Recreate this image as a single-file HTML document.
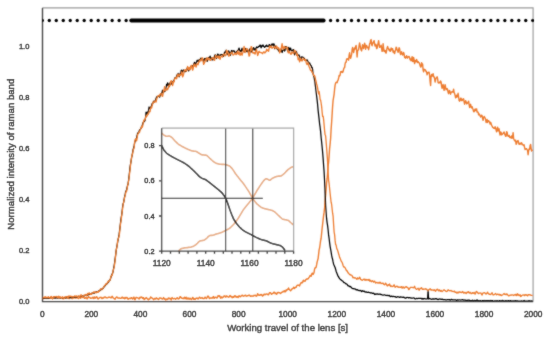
<!DOCTYPE html>
<html><head><meta charset="utf-8"><style>
html,body{margin:0;padding:0;background:#fff;width:550px;height:338px;overflow:hidden}
svg{display:block}
text{font-family:"Liberation Sans", sans-serif;}
</style></head><body>
<svg width="550" height="338" viewBox="0 0 550 338">
<rect width="550" height="338" fill="#fff"/>
<filter id="bl" x="-5%" y="-5%" width="110%" height="110%"><feConvolveMatrix order="3" kernelMatrix="1 2 1 2 16 2 1 2 1" preserveAlpha="false" edgeMode="duplicate"/></filter>
<filter id="bt" x="-5%" y="-5%" width="110%" height="110%"><feConvolveMatrix order="3" kernelMatrix="0 1 0 1 10 1 0 1 0" preserveAlpha="false" edgeMode="duplicate"/></filter>
<g filter="url(#bl)">
<clipPath id="pc"><rect x="42.2" y="8" width="491" height="293.6"/></clipPath>
<clipPath id="ic"><rect x="161.7" y="128.2" width="131.9" height="123"/></clipPath>
<path d="M42.2 7.9H533.1V301.6" fill="none" stroke="#9a9a9a" stroke-width="1.15"/>
<path d="M42.5 8V301.6H533.2" fill="none" stroke="#4a4a4a" stroke-width="1.4"/>
<g fill="none" stroke-linejoin="round" clip-path="url(#pc)">
<path d="M42.6 298.1L43.1 298.7L43.6 298.5L44.1 298.2L44.6 298.0L45.1 297.2L45.6 297.0L46.1 297.2L46.6 298.4L47.1 297.9L47.6 297.8L48.1 297.9L48.6 297.0L49.1 297.9L49.6 298.3L50.1 298.0L50.6 297.0L51.1 296.6L51.6 297.1L52.1 298.3L52.6 298.7L53.1 297.6L53.6 297.2L54.1 296.8L54.6 296.8L55.1 297.5L55.6 297.9L56.1 297.7L56.6 297.5L57.1 297.0L57.6 298.0L58.1 297.7L58.6 296.3L59.1 296.9L59.6 297.3L60.1 296.9L60.6 297.8L61.1 297.6L61.6 297.6L62.1 297.7L62.6 298.0L63.1 298.9L63.6 298.0L64.1 297.3L64.6 297.1L65.1 297.3L65.6 298.2L66.1 297.5L66.6 297.4L67.1 297.4L67.6 296.6L68.1 296.4L68.6 297.7L69.1 298.6L69.6 297.7L70.1 297.4L70.6 297.8L71.1 297.1L71.6 296.6L72.1 298.6L72.6 298.5L73.1 297.4L73.6 297.9L74.1 297.5L74.6 297.2L75.1 298.1L75.6 298.1L76.1 298.0L76.6 297.6L77.1 297.6L77.6 297.8L78.1 298.3L78.6 298.6L79.1 297.8L79.6 296.3L80.1 296.8L80.6 298.3L81.1 297.5L81.6 296.2L82.1 296.1L82.6 297.5L83.1 297.6L83.6 296.9L84.1 297.5L84.6 298.3L85.1 298.2L85.6 297.6L86.1 297.3L86.6 298.1L87.1 298.9L87.6 298.1L88.1 297.0L88.6 296.6L89.1 297.6L89.6 297.6L90.1 297.7L90.6 298.3L91.1 298.0L91.6 298.1L92.1 298.2L92.6 297.5L93.1 297.1L93.6 298.6L94.1 298.2L94.6 296.9L95.1 298.0L95.6 298.1L96.1 297.3L96.6 296.7L97.1 297.3L97.6 298.4L98.1 298.9L98.6 298.4L99.1 298.2L99.6 297.7L100.1 297.3L100.6 297.5L101.1 297.3L101.6 298.2L102.1 298.6L102.6 297.8L103.1 297.9L103.6 298.1L104.1 297.1L104.6 297.2L105.1 297.0L105.6 297.1L106.1 297.9L106.6 297.8L107.1 297.9L107.6 297.9L108.1 297.5L108.6 297.1L109.1 297.1L109.6 297.4L110.1 297.2L110.6 297.6L111.1 297.9L111.6 297.1L112.1 296.3L112.6 296.9L113.1 297.9L113.6 298.2L114.1 298.4L114.6 298.9L115.1 299.3L115.6 298.1L116.1 297.4L116.6 296.9L117.1 297.2L117.6 297.8L118.1 298.2L118.6 298.0L119.1 297.8L119.6 298.1L120.1 298.3L120.6 298.1L121.1 298.4L121.6 297.8L122.1 297.1L122.6 297.6L123.1 298.3L123.6 298.0L124.1 297.6L124.6 298.8L125.1 298.6L125.6 297.4L126.1 297.9L126.6 297.5L127.1 297.4L127.6 298.8L128.1 299.2L128.6 298.7L129.1 298.5L129.6 298.3L130.1 298.4L130.6 298.6L131.1 297.7L131.6 297.8L132.1 298.4L132.6 298.9L133.1 298.4L133.6 297.3L134.1 297.3L134.6 299.6L135.1 299.7L135.6 298.4L136.1 297.4L136.6 297.5L137.1 297.6L137.6 297.9L138.1 298.1L138.6 298.2L139.1 299.1L139.6 297.7L140.1 297.2L140.6 297.8L141.1 297.0L141.6 297.1L142.1 297.6L142.6 298.4L143.1 297.7L143.6 297.8L144.1 299.5L144.6 299.3L145.1 298.6L145.6 298.3L146.1 297.5L146.6 297.8L147.1 298.5L147.6 299.0L148.1 299.7L148.6 299.7L149.1 298.7L149.6 299.1L150.1 298.3L150.6 297.0L151.1 297.5L151.6 297.7L152.1 298.2L152.6 298.4L153.1 298.9L153.6 299.7L154.1 299.3L154.6 298.4L155.1 298.4L155.6 298.9L156.1 298.1L156.6 297.9L157.1 298.8L157.6 298.7L158.1 299.1L158.6 299.6L159.1 298.6L159.6 298.0L160.1 298.0L160.6 298.2L161.1 298.2L161.6 298.4L162.1 299.0L162.6 299.0L163.1 298.8L163.6 297.6L164.1 298.5L164.6 299.2L165.1 299.0L165.6 299.9L166.1 298.9L166.6 299.6L167.1 299.5L167.6 299.3L168.1 298.4L168.6 298.0L169.1 298.8L169.6 298.3L170.1 298.4L170.6 298.8L171.1 300.1L171.6 298.4L172.1 297.6L172.6 298.2L173.1 298.7L173.6 298.8L174.1 298.5L174.6 298.5L175.1 298.6L175.6 299.2L176.1 298.7L176.6 298.3L177.1 297.8L177.6 297.9L178.1 299.0L178.6 298.6L179.1 298.7L179.6 298.0L180.1 296.6L180.6 296.9L181.1 297.5L181.6 298.2L182.1 298.4L182.6 298.3L183.1 298.7L183.6 298.5L184.1 297.6L184.6 297.2L185.1 298.8L185.6 298.2L186.1 297.2L186.6 298.9L187.1 299.2L187.6 298.2L188.1 297.9L188.6 298.7L189.1 299.3L189.6 298.4L190.1 298.2L190.6 299.1L191.1 298.9L191.6 299.4L192.1 298.8L192.6 297.4L193.1 297.8L193.6 299.3L194.1 299.4L194.6 298.7L195.1 299.5L195.6 298.9L196.1 298.2L196.6 298.4L197.1 298.0L197.6 298.3L198.1 299.0L198.6 298.5L199.1 297.5L199.6 297.2L200.1 297.7L200.6 298.2L201.1 298.1L201.6 297.8L202.1 297.5L202.6 298.4L203.1 298.5L203.6 298.3L204.1 298.6L204.6 298.1L205.1 297.1L205.6 297.7L206.1 298.5L206.6 298.5L207.1 297.5L207.6 296.2L208.1 296.1L208.6 296.5L209.1 298.0L209.6 298.6L210.1 298.1L210.6 297.9L211.1 298.2L211.6 298.0L212.1 297.8L212.6 298.0L213.1 296.8L213.6 296.5L214.1 298.2L214.6 298.1L215.1 297.4L215.6 297.3L216.1 297.1L216.6 297.9L217.1 298.0L217.6 297.0L218.1 295.6L218.6 295.8L219.1 296.3L219.6 295.7L220.1 297.0L220.6 298.2L221.1 296.9L221.6 296.9L222.1 298.0L222.6 297.2L223.1 297.3L223.6 296.9L224.1 295.9L224.6 296.0L225.1 296.0L225.6 297.1L226.1 296.9L226.6 295.9L227.1 296.1L227.6 296.7L228.1 296.9L228.6 297.2L229.1 297.0L229.6 296.0L230.1 295.5L230.6 296.6L231.1 296.4L231.6 296.5L232.1 297.8L232.6 297.3L233.1 296.5L233.6 297.3L234.1 297.0L234.6 295.9L235.1 295.7L235.6 296.2L236.1 297.3L236.6 296.7L237.1 296.5L237.6 297.1L238.1 297.5L238.6 296.2L239.1 295.8L239.6 296.4L240.1 296.8L240.6 296.6L241.1 295.9L241.6 295.8L242.1 295.2L242.6 295.4L243.1 296.0L243.6 296.2L244.1 295.9L244.6 295.5L245.1 295.5L245.6 295.2L246.1 296.0L246.6 296.2L247.1 296.0L247.6 295.7L248.1 295.6L248.6 295.3L249.1 295.0L249.6 295.5L250.1 296.0L250.6 296.3L251.1 295.8L251.6 296.1L252.1 296.2L252.6 296.0L253.1 296.2L253.6 295.9L254.1 295.3L254.6 295.5L255.1 295.4L255.6 295.3L256.1 296.0L256.6 296.2L257.1 295.4L257.6 293.7L258.1 294.4L258.6 294.9L259.1 295.4L259.6 295.3L260.1 294.6L260.6 295.1L261.1 294.9L261.6 294.4L262.1 295.4L262.6 296.1L263.1 295.6L263.6 295.0L264.1 294.1L264.6 294.2L265.1 294.7L265.6 294.5L266.1 294.1L266.6 294.0L267.1 294.1L267.6 294.2L268.1 294.9L268.6 294.9L269.1 293.4L269.6 292.7L270.1 292.7L270.6 292.7L271.1 293.7L271.6 294.2L272.1 293.6L272.6 293.5L273.1 293.4L273.6 292.5L274.1 292.1L274.6 292.3L275.1 293.7L275.6 293.2L276.1 293.1L276.6 294.3L277.1 293.5L277.6 292.7L278.1 292.4L278.6 292.4L279.1 292.9L279.6 292.8L280.1 292.9L280.6 293.4L281.1 293.0L281.6 292.4L282.1 292.1L282.6 292.0L283.1 291.3L283.6 291.2L284.1 291.7L284.6 290.7L285.1 291.8L285.6 291.6L286.1 290.0L286.6 290.5L287.1 289.8L287.6 289.2L288.1 289.2L288.6 288.0L289.1 289.4L289.6 289.8L290.1 290.2L290.6 290.8L291.1 290.0L291.6 289.6L292.1 288.6L292.6 288.6L293.1 288.3L293.6 287.2L294.1 288.0L294.6 288.5L295.1 287.5L295.6 287.3L296.1 287.4L296.6 286.1L297.1 285.4L297.6 285.2L298.1 285.1L298.6 285.1L299.1 285.5L299.6 285.9L300.1 284.3L300.6 283.7L301.1 282.5L301.6 282.5L302.1 282.9L302.6 282.5L303.1 280.8L303.6 280.2L304.1 281.1L304.6 281.1L305.1 281.2L305.6 280.0L306.1 279.3L306.6 279.3L307.1 278.8L307.6 279.0L308.1 278.9L308.6 278.0L309.1 277.4L309.6 276.6L310.1 275.4L310.6 275.9L311.1 276.3L311.6 274.5L312.1 273.2L312.6 273.3L313.1 274.4L313.6 273.6L314.1 272.2L314.6 269.0L315.1 267.7L315.6 267.8L316.1 267.2L316.6 264.9L317.1 262.1L317.6 260.4L318.1 258.6L318.6 254.4L319.1 249.8L319.6 247.8L320.1 244.5L320.6 240.6L321.1 238.5L321.6 233.5L322.1 228.5L322.6 224.3L323.1 219.8L323.6 215.7L324.1 212.2L324.6 207.9L325.1 200.8L325.6 195.5L326.1 189.5L326.6 182.3L327.1 178.7L327.6 173.1L328.1 166.1L328.6 162.5L329.1 156.4L329.6 148.7L330.1 144.1L330.6 138.7L331.1 129.4L331.6 122.5L332.1 114.8L332.6 106.4L333.1 100.3L333.6 97.4L334.1 94.3L334.6 89.2L335.1 85.2L335.6 83.1L336.1 82.3L336.6 82.4L337.1 82.7L337.6 80.8L338.1 80.1L338.6 78.3L339.1 75.5L339.6 76.0L340.1 75.1L340.6 71.8L341.1 72.2L341.6 71.7L342.1 71.4L342.6 72.5L343.1 71.4L343.6 69.3L344.1 67.8L344.6 67.6L345.1 63.9L345.6 62.1L346.1 62.3L346.6 59.0L347.1 59.2L347.6 58.8L348.1 59.1L348.6 60.2L349.1 55.3L349.6 52.8L350.1 57.8L350.6 58.2L351.1 56.5L351.6 54.6L352.1 49.7L352.6 47.4L353.1 50.0L353.6 52.6L354.1 50.2L354.6 48.0L355.1 49.0L355.6 46.6L356.1 45.4L356.6 49.9L357.1 57.0L357.6 50.8L358.1 50.2L358.6 49.5L359.1 45.6L359.6 43.0L360.1 45.5L360.6 48.1L361.1 50.0L361.6 50.9L362.1 47.8L362.6 44.8L363.1 46.6L363.6 48.5L364.1 46.0L364.6 43.3L365.1 44.8L365.6 49.2L366.1 46.9L366.6 45.5L367.1 46.8L367.6 47.8L368.1 47.2L368.6 49.7L369.1 47.3L369.6 43.8L370.1 43.3L370.6 40.3L371.1 39.6L371.6 44.5L372.1 45.8L372.6 43.0L373.1 43.0L373.6 41.5L374.1 40.7L374.6 44.4L375.1 46.0L375.6 44.3L376.1 44.7L376.6 48.6L377.1 48.2L377.6 45.5L378.1 43.3L378.6 40.7L379.1 44.2L379.6 47.3L380.1 47.1L380.6 46.5L381.1 45.2L381.6 48.3L382.1 51.4L382.6 50.2L383.1 43.7L383.6 48.0L384.1 51.4L384.6 50.7L385.1 50.4L385.6 52.9L386.1 53.0L386.6 50.5L387.1 47.9L387.6 46.4L388.1 48.0L388.6 48.9L389.1 50.3L389.6 49.4L390.1 51.4L390.6 51.0L391.1 48.0L391.6 49.9L392.1 48.8L392.6 48.6L393.1 52.1L393.6 51.0L394.1 52.9L394.6 53.5L395.1 51.3L395.6 49.9L396.1 47.3L396.6 47.8L397.1 50.0L397.6 50.6L398.1 52.4L398.6 50.0L399.1 47.7L399.6 48.8L400.1 52.5L400.6 54.5L401.1 52.2L401.6 51.7L402.1 53.9L402.6 55.1L403.1 54.4L403.6 52.5L404.1 54.0L404.6 57.5L405.1 56.9L405.6 58.2L406.1 57.4L406.6 55.6L407.1 57.1L407.6 58.1L408.1 56.9L408.6 56.6L409.1 56.4L409.6 57.6L410.1 59.7L410.6 59.1L411.1 60.8L411.6 59.1L412.1 56.6L412.6 61.4L413.1 61.6L413.6 57.4L414.1 60.0L414.6 63.6L415.1 60.5L415.6 61.2L416.1 61.8L416.6 59.4L417.1 60.9L417.6 62.5L418.1 61.7L418.6 62.3L419.1 62.8L419.6 63.9L420.1 65.6L420.6 67.0L421.1 66.8L421.6 62.7L422.1 63.7L422.6 64.1L423.1 69.9L423.6 71.8L424.1 69.3L424.6 69.9L425.1 69.7L425.6 70.2L426.1 71.7L426.6 71.8L427.1 74.8L427.6 72.7L428.1 72.7L428.6 72.1L429.1 72.1L429.6 75.3L430.1 81.2L430.6 85.5L431.1 76.3L431.6 74.5L432.1 76.2L432.6 75.7L433.1 73.7L433.6 76.7L434.1 76.6L434.6 78.6L435.1 82.0L435.6 79.6L436.1 78.0L436.6 77.5L437.1 76.8L437.6 78.6L438.1 82.6L438.6 83.0L439.1 82.9L439.6 82.2L440.1 82.8L440.6 81.0L441.1 82.1L441.6 86.2L442.1 88.3L442.6 86.2L443.1 84.5L443.6 87.3L444.1 90.4L444.6 87.1L445.1 84.7L445.6 87.3L446.1 89.8L446.6 88.8L447.1 88.5L447.6 89.6L448.1 92.3L448.6 93.7L449.1 91.0L449.6 90.5L450.1 92.5L450.6 94.2L451.1 92.1L451.6 92.0L452.1 92.1L452.6 91.4L453.1 91.9L453.6 89.2L454.1 92.7L454.6 93.5L455.1 95.4L455.6 97.9L456.1 97.3L456.6 95.3L457.1 97.0L457.6 96.2L458.1 93.3L458.6 97.0L459.1 100.5L459.6 101.2L460.1 100.4L460.6 98.1L461.1 98.1L461.6 100.6L462.1 100.6L462.6 99.5L463.1 99.0L463.6 98.8L464.1 101.9L464.6 104.2L465.1 102.1L465.6 100.6L466.1 101.7L466.6 103.9L467.1 103.5L467.6 103.0L468.1 102.2L468.6 101.2L469.1 104.6L469.6 107.5L470.1 106.0L470.6 104.3L471.1 107.0L471.6 107.9L472.1 106.7L472.6 108.2L473.1 109.5L473.6 111.6L474.1 111.8L474.6 110.2L475.1 108.9L475.6 110.6L476.1 109.5L476.6 108.9L477.1 112.1L477.6 111.8L478.1 112.2L478.6 114.8L479.1 113.9L479.6 114.6L480.1 115.8L480.6 117.0L481.1 116.4L481.6 115.1L482.1 115.7L482.6 118.6L483.1 120.4L483.6 117.5L484.1 116.5L484.6 117.2L485.1 118.0L485.6 119.5L486.1 122.5L486.6 120.6L487.1 119.5L487.6 122.5L488.1 121.0L488.6 120.7L489.1 121.4L489.6 122.0L490.1 124.1L490.6 122.3L491.1 123.6L491.6 125.3L492.1 126.0L492.6 127.3L493.1 127.5L493.6 128.2L494.1 128.5L494.6 128.4L495.1 126.7L495.6 127.9L496.1 130.0L496.6 131.9L497.1 129.3L497.6 127.1L498.1 130.8L498.6 129.9L499.1 128.8L499.6 132.9L500.1 135.0L500.6 132.0L501.1 132.4L501.6 134.9L502.1 134.5L502.6 133.9L503.1 133.5L503.6 132.4L504.1 131.9L504.6 133.9L505.1 134.9L505.6 136.4L506.1 136.1L506.6 131.8L507.1 132.1L507.6 135.3L508.1 136.3L508.6 136.4L509.1 135.3L509.6 137.2L510.1 137.6L510.6 137.0L511.1 138.0L511.6 136.0L512.1 138.2L512.6 137.2L513.1 132.6L513.6 138.4L514.1 139.6L514.6 140.6L515.1 141.0L515.6 140.2L516.1 144.2L516.6 143.6L517.1 141.4L517.6 140.9L518.1 140.6L518.6 142.7L519.1 144.4L519.6 144.1L520.1 143.1L520.6 144.1L521.1 143.4L521.6 142.7L522.1 144.5L522.6 144.3L523.1 145.0L523.6 145.5L524.1 144.8L524.6 147.6L525.1 149.5L525.6 149.2L526.1 148.7L526.6 148.8L527.1 149.8L527.6 150.3L528.1 154.7L528.6 150.8L529.1 148.9L529.6 149.3L530.1 145.6L530.6 144.4L531.1 148.3L531.6 151.0L532.1 150.2L532.6 150.9" stroke="#ED7D31" stroke-width="1.4"/>
<path d="M42.6 298.2L43.1 298.2L43.6 298.2L44.1 298.0L44.6 298.0L45.1 298.0L45.6 298.0L46.1 298.4L46.6 298.3L47.1 298.0L47.6 298.1L48.1 298.3L48.6 298.3L49.1 298.0L49.6 298.0L50.1 298.2L50.6 298.0L51.1 297.8L51.6 297.7L52.1 297.6L52.6 297.6L53.1 297.8L53.6 297.8L54.1 297.9L54.6 298.1L55.1 298.1L55.6 297.6L56.1 297.6L56.6 297.9L57.1 298.0L57.6 297.8L58.1 297.7L58.6 297.8L59.1 297.7L59.6 298.0L60.1 298.0L60.6 297.7L61.1 298.1L61.6 298.0L62.1 297.7L62.6 297.9L63.1 297.9L63.6 297.6L64.1 297.6L64.6 298.0L65.1 297.7L65.6 297.6L66.1 297.8L66.6 297.6L67.1 297.8L67.6 298.0L68.1 297.5L68.6 297.4L69.1 297.6L69.6 297.5L70.1 297.5L70.6 297.5L71.1 297.5L71.6 297.7L72.1 297.5L72.6 297.3L73.1 297.3L73.6 297.2L74.1 297.1L74.6 296.9L75.1 297.1L75.6 297.2L76.1 297.4L76.6 296.9L77.1 296.5L77.6 296.8L78.1 296.5L78.6 296.3L79.1 296.5L79.6 296.7L80.1 296.7L80.6 296.4L81.1 296.2L81.6 296.1L82.1 296.3L82.6 296.2L83.1 295.8L83.6 295.9L84.1 295.8L84.6 295.6L85.1 295.3L85.6 295.1L86.1 295.2L86.6 295.2L87.1 295.3L87.6 294.9L88.1 294.8L88.6 294.6L89.1 294.6L89.6 294.5L90.1 294.3L90.6 293.8L91.1 293.8L91.6 293.6L92.1 293.0L92.6 293.1L93.1 293.1L93.6 293.0L94.1 293.3L94.6 292.9L95.1 292.2L95.6 292.2L96.1 292.2L96.6 291.9L97.1 291.6L97.6 291.6L98.1 291.5L98.6 291.0L99.1 290.7L99.6 290.7L100.1 290.2L100.6 289.9L101.1 289.6L101.6 289.4L102.1 289.2L102.6 288.7L103.1 288.2L103.6 287.6L104.1 286.7L104.6 286.0L105.1 285.8L105.6 285.1L106.1 284.6L106.6 284.1L107.1 283.5L107.6 283.1L108.1 282.6L108.6 282.0L109.1 280.7L109.6 280.1L110.1 280.2L110.6 278.3L111.1 276.7L111.6 275.4L112.1 274.0L112.6 273.1L113.1 271.4L113.6 268.5L114.1 265.8L114.6 262.5L115.1 258.9L115.6 255.3L116.1 251.1L116.6 247.8L117.1 245.3L117.6 242.3L118.1 239.6L118.6 237.2L119.1 234.2L119.6 230.3L120.1 226.3L120.6 221.9L121.1 217.8L121.6 215.3L122.1 211.5L122.6 206.5L123.1 203.8L123.6 202.7L124.1 199.6L124.6 196.6L125.1 194.8L125.6 191.8L126.1 190.7L126.6 189.7L127.1 187.5L127.6 185.3L128.1 183.7L128.6 180.1L129.1 175.7L129.6 171.2L130.1 166.4L130.6 163.7L131.1 160.9L131.6 157.7L132.1 155.4L132.6 152.3L133.1 149.5L133.6 148.0L134.1 145.9L134.6 143.2L135.1 141.2L135.6 140.3L136.1 139.5L136.6 137.7L137.1 135.5L137.6 133.0L138.1 132.8L138.6 133.1L139.1 131.1L139.6 129.9L140.1 129.7L140.6 129.0L141.1 128.2L141.6 126.4L142.1 125.9L142.6 124.2L143.1 122.5L143.6 122.5L144.1 121.3L144.6 121.1L145.1 120.4L145.6 117.1L146.1 112.1L146.6 114.1L147.1 113.6L147.6 112.0L148.1 112.4L148.6 110.2L149.1 107.0L149.6 107.7L150.1 108.6L150.6 107.5L151.1 106.7L151.6 105.5L152.1 103.5L152.6 103.3L153.1 103.0L153.6 101.1L154.1 101.5L154.6 102.0L155.1 101.2L155.6 99.7L156.1 98.0L156.6 97.3L157.1 96.4L157.6 96.8L158.1 96.4L158.6 95.9L159.1 96.3L159.6 97.2L160.1 95.7L160.6 94.0L161.1 94.7L161.6 93.5L162.1 92.0L162.6 90.1L163.1 92.6L163.6 92.5L164.1 91.6L164.6 90.8L165.1 91.1L165.6 90.7L166.1 87.3L166.6 84.4L167.1 85.7L167.6 82.8L168.1 83.5L168.6 86.9L169.1 86.8L169.6 84.1L170.1 82.6L170.6 84.1L171.1 84.4L171.6 82.9L172.1 82.2L172.6 81.5L173.1 81.7L173.6 81.5L174.1 80.3L174.6 78.3L175.1 77.6L175.6 77.6L176.1 77.5L176.6 76.4L177.1 74.6L177.6 75.1L178.1 73.4L178.6 74.6L179.1 76.8L179.6 74.5L180.1 73.6L180.6 74.0L181.1 70.7L181.6 70.2L182.1 72.2L182.6 71.8L183.1 70.5L183.6 70.0L184.1 70.5L184.6 71.6L185.1 71.8L185.6 70.4L186.1 71.3L186.6 70.5L187.1 68.5L187.6 67.1L188.1 68.6L188.6 70.9L189.1 70.0L189.6 69.3L190.1 68.1L190.6 67.2L191.1 66.5L191.6 65.7L192.1 65.5L192.6 66.7L193.1 66.7L193.6 64.8L194.1 63.3L194.6 62.4L195.1 64.1L195.6 64.8L196.1 63.0L196.6 61.8L197.1 60.4L197.6 60.3L198.1 61.8L198.6 61.1L199.1 59.7L199.6 59.6L200.1 59.8L200.6 58.5L201.1 58.1L201.6 58.7L202.1 59.7L202.6 59.7L203.1 59.4L203.6 61.5L204.1 60.6L204.6 58.5L205.1 58.9L205.6 59.4L206.1 58.2L206.6 58.5L207.1 61.3L207.6 60.5L208.1 58.3L208.6 57.5L209.1 57.9L209.6 57.7L210.1 56.2L210.6 58.4L211.1 58.4L211.6 58.0L212.1 60.2L212.6 59.2L213.1 58.1L213.6 59.6L214.1 58.7L214.6 55.6L215.1 54.8L215.6 55.2L216.1 57.8L216.6 58.5L217.1 56.0L217.6 54.1L218.1 54.4L218.6 55.3L219.1 55.4L219.6 55.2L220.1 55.6L220.6 54.9L221.1 54.4L221.6 54.8L222.1 54.6L222.6 54.7L223.1 56.4L223.6 56.4L224.1 54.5L224.6 52.1L225.1 52.4L225.6 52.0L226.1 50.2L226.6 52.8L227.1 54.7L227.6 53.7L228.1 51.2L228.6 50.9L229.1 51.8L229.6 52.7L230.1 55.5L230.6 55.0L231.1 51.9L231.6 50.5L232.1 51.1L232.6 51.9L233.1 50.8L233.6 51.0L234.1 50.8L234.6 51.7L235.1 53.7L235.6 53.6L236.1 52.4L236.6 51.3L237.1 51.6L237.6 50.6L238.1 50.3L238.6 49.3L239.1 48.1L239.6 50.1L240.1 51.3L240.6 50.7L241.1 51.8L241.6 49.9L242.1 48.2L242.6 50.0L243.1 51.1L243.6 50.6L244.1 51.2L244.6 51.8L245.1 49.5L245.6 48.4L246.1 50.4L246.6 51.7L247.1 49.0L247.6 49.8L248.1 52.1L248.6 52.1L249.1 51.1L249.6 49.4L250.1 48.6L250.6 51.3L251.1 52.2L251.6 51.2L252.1 50.7L252.6 49.2L253.1 48.2L253.6 47.6L254.1 50.1L254.6 49.1L255.1 48.9L255.6 50.3L256.1 48.0L256.6 47.0L257.1 47.3L257.6 47.6L258.1 47.3L258.6 46.3L259.1 46.4L259.6 46.1L260.1 45.0L260.6 45.8L261.1 47.9L261.6 46.3L262.1 45.3L262.6 46.1L263.1 45.0L263.6 46.4L264.1 46.7L264.6 47.3L265.1 47.0L265.6 45.8L266.1 46.3L266.6 45.1L267.1 45.9L267.6 46.5L268.1 46.4L268.6 46.5L269.1 44.8L269.6 44.6L270.1 45.7L270.6 46.7L271.1 45.7L271.6 44.7L272.1 43.8L272.6 44.6L273.1 45.8L273.6 43.8L274.1 44.0L274.6 48.7L275.1 47.7L275.6 46.0L276.1 47.3L276.6 47.6L277.1 49.1L277.6 49.5L278.1 49.1L278.6 50.9L279.1 51.2L279.6 51.5L280.1 51.7L280.6 50.3L281.1 49.0L281.6 51.5L282.1 52.5L282.6 50.4L283.1 50.2L283.6 49.7L284.1 49.3L284.6 51.0L285.1 50.0L285.6 46.6L286.1 46.7L286.6 47.0L287.1 48.8L287.6 51.0L288.1 49.4L288.6 47.4L289.1 48.2L289.6 51.0L290.1 48.8L290.6 48.1L291.1 50.0L291.6 50.7L292.1 51.0L292.6 50.1L293.1 50.0L293.6 49.6L294.1 52.8L294.6 54.9L295.1 53.5L295.6 52.3L296.1 51.2L296.6 52.1L297.1 54.0L297.6 55.0L298.1 55.4L298.6 54.8L299.1 55.2L299.6 56.5L300.1 58.1L300.6 60.2L301.1 59.1L301.6 56.9L302.1 57.2L302.6 57.2L303.1 57.3L303.6 58.1L304.1 58.1L304.6 59.1L305.1 60.3L305.6 60.2L306.1 60.5L306.6 60.0L307.1 59.8L307.6 60.8L308.1 61.7L308.6 62.7L309.1 63.8L309.6 62.9L310.1 64.1L310.6 65.2L311.1 65.6L311.6 67.7L312.1 67.4L312.6 69.6L313.1 73.9L313.6 75.9L314.1 77.7L314.6 80.1L315.1 83.4L315.6 87.3L316.1 91.5L316.6 95.7L317.1 99.9L317.6 104.5L318.1 110.1L318.6 114.6L319.1 118.9L319.6 123.8L320.1 127.2L320.6 131.4L321.1 137.3L321.6 141.8L322.1 146.8L322.6 152.0L323.1 158.1L323.6 165.2L324.1 171.7L324.6 181.0L325.1 192.3L325.6 205.7L326.1 212.7L326.6 218.7L327.1 222.6L327.6 225.6L328.1 229.8L328.6 234.9L329.1 238.3L329.6 242.6L330.1 246.3L330.6 249.1L331.1 251.9L331.6 255.2L332.1 257.6L332.6 259.3L333.1 261.9L333.6 264.2L334.1 265.3L334.6 266.4L335.1 267.5L335.6 269.2L336.1 271.2L336.6 272.6L337.1 273.7L337.6 275.1L338.1 276.1L338.6 276.9L339.1 277.9L339.6 278.5L340.1 279.1L340.6 279.6L341.1 279.9L341.6 280.4L342.1 280.8L342.6 280.8L343.1 281.5L343.6 282.3L344.1 282.7L344.6 282.7L345.1 283.0L345.6 283.7L346.1 283.9L346.6 283.9L347.1 284.4L347.6 285.3L348.1 285.8L348.6 285.8L349.1 286.1L349.6 286.7L350.1 286.4L350.6 286.5L351.1 287.3L351.6 287.7L352.1 288.2L352.6 288.5L353.1 288.5L353.6 288.6L354.1 288.8L354.6 288.8L355.1 288.9L355.6 289.3L356.1 289.8L356.6 289.8L357.1 289.6L357.6 289.8L358.1 290.4L358.6 290.4L359.1 290.6L359.6 290.6L360.1 290.4L360.6 290.7L361.1 290.9L361.6 291.5L362.1 291.0L362.6 290.7L363.1 291.2L363.6 291.3L364.1 291.1L364.6 291.5L365.1 292.0L365.6 292.0L366.1 291.9L366.6 292.1L367.1 292.3L367.6 292.4L368.1 292.4L368.6 292.2L369.1 292.5L369.6 292.6L370.1 292.7L370.6 293.0L371.1 292.8L371.6 292.9L372.1 293.1L372.6 293.3L373.1 293.3L373.6 293.2L374.1 293.6L374.6 294.5L375.1 294.4L375.6 294.1L376.1 293.9L376.6 294.2L377.1 294.2L377.6 293.9L378.1 294.0L378.6 294.3L379.1 294.3L379.6 294.0L380.1 294.0L380.6 294.4L381.1 294.6L381.6 294.5L382.1 294.8L382.6 295.0L383.1 295.0L383.6 295.0L384.1 294.9L384.6 294.9L385.1 295.0L385.6 295.3L386.1 295.5L386.6 295.3L387.1 295.3L387.6 295.4L388.1 295.7L388.6 295.6L389.1 295.4L389.6 295.6L390.1 296.5L390.6 296.5L391.1 296.2L391.6 296.2L392.1 296.6L392.6 296.6L393.1 296.2L393.6 296.5L394.1 296.7L394.6 296.7L395.1 296.6L395.6 296.9L396.1 297.3L396.6 297.1L397.1 297.0L397.6 296.7L398.1 296.7L398.6 297.0L399.1 297.1L399.6 297.3L400.1 297.2L400.6 296.9L401.1 297.0L401.6 297.2L402.1 297.2L402.6 297.3L403.1 297.3L403.6 297.1L404.1 297.4L404.6 297.8L405.1 297.9L405.6 298.2L406.1 298.0L406.6 297.5L407.1 297.4L407.6 297.5L408.1 297.6L408.6 297.8L409.1 297.6L409.6 297.7L410.1 297.8L410.6 297.8L411.1 298.1L411.6 298.0L412.1 298.1L412.6 298.1L413.1 298.0L413.6 297.9L414.1 298.0L414.6 298.5L415.1 298.9L415.6 298.8L416.1 298.6L416.6 298.4L417.1 298.5L417.6 298.6L418.1 298.4L418.6 298.4L419.1 298.4L419.6 298.4L420.1 298.4L420.6 298.3L421.1 298.3L421.6 298.8L422.1 299.1L422.6 298.5L423.1 298.7L423.6 299.0L424.1 298.6L424.6 298.5L425.1 298.8L425.6 298.9L426.1 298.8L426.6 299.0L427.1 298.9L427.6 298.7L428.1 290.3L428.6 299.0L429.1 298.8L429.6 298.5L430.1 298.7L430.6 299.0L431.1 299.2L431.6 299.3L432.1 299.0L432.6 298.9L433.1 299.1L433.6 298.9L434.1 299.1L434.6 299.1L435.1 298.7L435.6 298.8L436.1 298.7L436.6 298.9L437.1 299.2L437.6 299.4L438.1 299.6L438.6 299.5L439.1 298.9L439.6 299.0L440.1 299.1L440.6 299.1L441.1 299.3L441.6 299.4L442.1 299.1L442.6 299.3L443.1 299.6L443.6 299.6L444.1 299.6L444.6 299.7L445.1 299.7L445.6 299.8L446.1 299.9L446.6 299.8L447.1 299.8L447.6 299.5L448.1 299.5L448.6 299.7L449.1 299.8L449.6 299.6L450.1 299.8L450.6 300.1L451.1 299.7L451.6 299.4L452.1 299.6L452.6 299.8L453.1 299.8L453.6 299.8L454.1 299.8L454.6 299.9L455.1 299.9L455.6 299.9L456.1 300.1L456.6 300.5L457.1 300.3L457.6 299.8L458.1 299.9L458.6 300.1L459.1 300.0L459.6 299.9L460.1 300.0L460.6 300.0L461.1 299.9L461.6 300.0L462.1 299.8L462.6 299.7L463.1 299.9L463.6 300.2L464.1 300.2L464.6 300.0L465.1 299.9L465.6 300.3L466.1 300.5L466.6 300.4L467.1 300.2L467.6 300.3L468.1 300.3L468.6 300.1L469.1 300.1L469.6 300.5L470.1 300.6L470.6 300.6L471.1 300.5L471.6 300.5L472.1 300.5L472.6 300.2L473.1 300.8L473.6 300.9L474.1 300.5L474.6 300.4L475.1 300.5L475.6 300.7L476.1 300.6L476.6 300.2L477.1 300.0L477.6 300.5L478.1 300.5L478.6 300.7L479.1 300.8L479.6 300.7L480.1 300.5L480.6 300.5L481.1 301.0L481.6 301.0L482.1 300.9L482.6 300.7L483.1 300.9L483.6 300.7L484.1 300.5L484.6 300.7L485.1 300.8L485.6 300.7L486.1 300.6L486.6 300.7L487.1 300.6L487.6 300.7L488.1 300.5L488.6 300.5L489.1 300.8L489.6 300.7L490.1 300.5L490.6 300.8L491.1 300.6L491.6 300.6L492.1 300.6L492.6 300.7L493.1 301.2L493.6 301.2L494.1 301.0L494.6 300.8L495.1 300.9L495.6 300.8L496.1 301.0L496.6 300.8L497.1 300.7L497.6 300.9L498.1 301.0L498.6 301.0L499.1 300.7L499.6 300.7L500.1 300.9L500.6 300.9L501.1 300.9L501.6 300.8L502.1 300.4L502.6 300.6L503.1 301.0L503.6 300.9L504.1 300.9L504.6 301.0L505.1 301.0L505.6 300.7L506.1 300.7L506.6 301.0L507.1 300.8L507.6 300.8L508.1 300.9L508.6 300.6L509.1 300.9L509.6 301.0L510.1 300.7L510.6 300.6L511.1 300.9L511.6 301.2L512.1 301.0L512.6 300.9L513.1 301.0L513.6 300.9L514.1 300.8L514.6 300.9L515.1 300.8L515.6 300.7L516.1 300.8L516.6 300.9L517.1 300.8L517.6 300.8L518.1 301.0L518.6 301.1L519.1 301.1L519.6 301.2L520.1 301.2L520.6 301.2L521.1 301.1L521.6 300.9L522.1 301.0L522.6 301.2L523.1 301.2L523.6 300.9L524.1 300.5L524.6 300.9L525.1 301.2L525.6 301.2L526.1 301.1L526.6 301.0L527.1 301.1L527.6 301.0L528.1 301.1L528.6 300.8L529.1 300.7L529.6 300.9L530.1 301.0L530.6 301.1L531.1 300.8L531.6 300.9L532.1 300.9L532.6 300.7" stroke="#000" stroke-width="1.25"/>
<path d="M42.6 297.5L43.1 297.4L43.6 297.6L44.1 297.4L44.6 297.1L45.1 297.1L45.6 297.4L46.1 297.9L46.6 297.5L47.1 297.7L47.6 297.6L48.1 296.8L48.6 297.1L49.1 297.9L49.6 297.6L50.1 297.9L50.6 298.4L51.1 297.6L51.6 296.7L52.1 297.8L52.6 298.7L53.1 297.8L53.6 296.7L54.1 296.7L54.6 297.0L55.1 296.6L55.6 296.8L56.1 296.9L56.6 296.4L57.1 297.3L57.6 297.5L58.1 297.1L58.6 297.6L59.1 298.0L59.6 297.6L60.1 297.3L60.6 297.1L61.1 297.7L61.6 298.3L62.1 297.1L62.6 296.8L63.1 297.6L63.6 297.7L64.1 298.2L64.6 298.5L65.1 297.5L65.6 296.9L66.1 296.6L66.6 296.7L67.1 297.3L67.6 298.3L68.1 298.2L68.6 296.2L69.1 295.9L69.6 296.8L70.1 296.5L70.6 296.1L71.1 296.5L71.6 296.9L72.1 297.0L72.6 296.5L73.1 296.8L73.6 297.0L74.1 296.4L74.6 296.0L75.1 295.9L75.6 296.7L76.1 296.2L76.6 295.9L77.1 296.9L77.6 296.5L78.1 296.3L78.6 295.9L79.1 296.3L79.6 297.1L80.1 296.6L80.6 295.3L81.1 294.7L81.6 295.8L82.1 296.8L82.6 296.5L83.1 296.2L83.6 295.8L84.1 295.0L84.6 295.2L85.1 295.3L85.6 294.5L86.1 294.6L86.6 295.7L87.1 294.7L87.6 293.4L88.1 293.9L88.6 294.1L89.1 292.8L89.6 293.3L90.1 294.3L90.6 293.6L91.1 294.3L91.6 294.4L92.1 293.1L92.6 292.9L93.1 292.6L93.6 292.0L94.1 292.4L94.6 292.3L95.1 291.8L95.6 292.5L96.1 292.9L96.6 292.3L97.1 291.9L97.6 291.6L98.1 292.4L98.6 291.4L99.1 291.4L99.6 291.0L100.1 289.6L100.6 289.0L101.1 288.6L101.6 289.1L102.1 289.6L102.6 288.7L103.1 287.7L103.6 287.3L104.1 286.4L104.6 285.5L105.1 285.3L105.6 283.9L106.1 283.9L106.6 284.1L107.1 283.2L107.6 282.2L108.1 281.3L108.6 281.8L109.1 281.1L109.6 280.1L110.1 280.2L110.6 278.0L111.1 276.0L111.6 275.4L112.1 275.6L112.6 273.4L113.1 270.7L113.6 269.1L114.1 267.4L114.6 264.3L115.1 260.4L115.6 255.6L116.1 250.7L116.6 248.3L117.1 246.1L117.6 241.2L118.1 239.1L118.6 237.7L119.1 236.0L119.6 232.6L120.1 226.8L120.6 223.4L121.1 220.6L121.6 216.4L122.1 212.2L122.6 208.8L123.1 204.8L123.6 202.2L124.1 200.2L124.6 197.3L125.1 195.9L125.6 193.4L126.1 191.5L126.6 191.4L127.1 188.7L127.6 185.6L128.1 183.6L128.6 180.9L129.1 177.5L129.6 173.2L130.1 169.3L130.6 164.5L131.1 160.7L131.6 157.2L132.1 155.0L132.6 153.8L133.1 150.4L133.6 149.1L134.1 148.0L134.6 142.4L135.1 139.7L135.6 139.0L136.1 138.7L136.6 140.9L137.1 138.2L137.6 134.8L138.1 133.7L138.6 132.7L139.1 132.2L139.6 132.2L140.1 129.8L140.6 129.2L141.1 128.3L141.6 126.3L142.1 127.3L142.6 126.5L143.1 123.4L143.6 120.8L144.1 120.0L144.6 119.4L145.1 119.7L145.6 117.5L146.1 115.8L146.6 116.6L147.1 115.7L147.6 114.6L148.1 114.5L148.6 113.5L149.1 112.0L149.6 111.4L150.1 111.5L150.6 108.4L151.1 107.2L151.6 108.0L152.1 105.8L152.6 104.3L153.1 102.0L153.6 101.8L154.1 102.2L154.6 102.4L155.1 100.8L155.6 101.0L156.1 102.0L156.6 99.5L157.1 97.9L157.6 96.8L158.1 95.8L158.6 95.5L159.1 96.1L159.6 96.0L160.1 94.2L160.6 93.7L161.1 93.8L161.6 93.8L162.1 96.2L162.6 96.3L163.1 93.7L163.6 91.0L164.1 89.5L164.6 86.6L165.1 90.4L165.6 90.7L166.1 89.4L166.6 89.0L167.1 88.4L167.6 89.8L168.1 88.5L168.6 86.1L169.1 85.4L169.6 86.1L170.1 85.3L170.6 81.1L171.1 81.7L171.6 80.8L172.1 82.2L172.6 85.7L173.1 83.6L173.6 81.3L174.1 81.9L174.6 79.2L175.1 78.0L175.6 78.3L176.1 77.2L176.6 78.9L177.1 76.9L177.6 74.6L178.1 76.4L178.6 75.0L179.1 74.5L179.6 75.7L180.1 75.4L180.6 74.6L181.1 74.9L181.6 71.9L182.1 72.5L182.6 76.8L183.1 76.0L183.6 74.4L184.1 71.5L184.6 70.0L185.1 70.4L185.6 69.7L186.1 71.3L186.6 70.8L187.1 68.7L187.6 66.4L188.1 67.7L188.6 69.6L189.1 68.7L189.6 67.4L190.1 69.8L190.6 68.9L191.1 65.3L191.6 65.3L192.1 67.4L192.6 70.2L193.1 68.9L193.6 65.4L194.1 64.2L194.6 66.2L195.1 64.8L195.6 64.8L196.1 67.0L196.6 65.0L197.1 63.8L197.6 64.1L198.1 64.7L198.6 62.3L199.1 61.5L199.6 61.9L200.1 59.7L200.6 60.2L201.1 60.7L201.6 59.5L202.1 57.9L202.6 57.9L203.1 61.2L203.6 64.4L204.1 63.5L204.6 62.6L205.1 61.2L205.6 59.7L206.1 60.5L206.6 59.3L207.1 57.7L207.6 59.0L208.1 59.6L208.6 58.2L209.1 58.9L209.6 59.7L210.1 60.3L210.6 60.4L211.1 58.8L211.6 58.8L212.1 58.8L212.6 57.8L213.1 57.4L213.6 58.8L214.1 59.9L214.6 60.3L215.1 57.6L215.6 55.5L216.1 56.8L216.6 57.3L217.1 57.2L217.6 56.3L218.1 57.5L218.6 58.2L219.1 55.8L219.6 57.0L220.1 59.3L220.6 57.0L221.1 56.7L221.6 56.4L222.1 56.6L222.6 57.1L223.1 54.7L223.6 54.4L224.1 54.3L224.6 54.9L225.1 55.8L225.6 55.7L226.1 54.6L226.6 50.3L227.1 51.0L227.6 52.8L228.1 52.9L228.6 56.2L229.1 56.2L229.6 54.4L230.1 53.7L230.6 53.9L231.1 53.4L231.6 52.8L232.1 52.3L232.6 54.2L233.1 55.1L233.6 54.7L234.1 54.4L234.6 53.3L235.1 53.3L235.6 53.6L236.1 54.6L236.6 54.3L237.1 52.5L237.6 51.2L238.1 53.8L238.6 54.2L239.1 51.9L239.6 53.8L240.1 55.3L240.6 54.2L241.1 52.4L241.6 54.4L242.1 55.2L242.6 53.1L243.1 52.4L243.6 48.8L244.1 46.5L244.6 50.7L245.1 52.5L245.6 51.7L246.1 49.9L246.6 48.5L247.1 49.5L247.6 49.5L248.1 50.4L248.6 53.8L249.1 56.1L249.6 55.7L250.1 51.8L250.6 49.8L251.1 46.6L251.6 46.9L252.1 50.6L252.6 52.4L253.1 53.3L253.6 52.9L254.1 52.4L254.6 53.3L255.1 54.1L255.6 52.2L256.1 50.2L256.6 49.9L257.1 52.4L257.6 55.5L258.1 54.6L258.6 51.9L259.1 51.3L259.6 52.4L260.1 52.3L260.6 52.4L261.1 52.9L261.6 52.7L262.1 53.0L262.6 53.7L263.1 52.4L263.6 52.0L264.1 51.9L264.6 52.9L265.1 52.8L265.6 51.9L266.1 51.5L266.6 49.2L267.1 50.4L267.6 50.6L268.1 50.0L268.6 51.4L269.1 48.3L269.6 46.4L270.1 47.4L270.6 47.2L271.1 46.1L271.6 47.5L272.1 48.3L272.6 47.7L273.1 47.4L273.6 47.4L274.1 47.0L274.6 46.6L275.1 48.6L275.6 48.2L276.1 47.1L276.6 46.0L277.1 47.0L277.6 48.9L278.1 48.7L278.6 47.7L279.1 48.9L279.6 52.9L280.1 51.9L280.6 49.2L281.1 49.7L281.6 46.2L282.1 43.7L282.6 47.6L283.1 48.8L283.6 49.1L284.1 46.4L284.6 46.6L285.1 47.9L285.6 47.8L286.1 47.8L286.6 47.1L287.1 47.2L287.6 49.9L288.1 52.7L288.6 52.9L289.1 51.2L289.6 52.1L290.1 53.2L290.6 54.0L291.1 54.4L291.6 52.6L292.1 52.0L292.6 52.7L293.1 53.2L293.6 53.5L294.1 52.7L294.6 50.4L295.1 50.9L295.6 51.5L296.1 52.7L296.6 55.5L297.1 53.9L297.6 55.2L298.1 59.7L298.6 58.2L299.1 59.5L299.6 61.9L300.1 58.9L300.6 58.3L301.1 60.5L301.6 60.1L302.1 61.0L302.6 60.0L303.1 58.6L303.6 58.9L304.1 59.2L304.6 60.5L305.1 60.1L305.6 59.5L306.1 62.2L306.6 63.9L307.1 64.5L307.6 63.3L308.1 62.8L308.6 65.1L309.1 66.8L309.6 67.5L310.1 69.2L310.6 70.5L311.1 70.2L311.6 71.0L312.1 72.5L312.6 72.7L313.1 73.8L313.6 75.5L314.1 75.1L314.6 75.6L315.1 77.3L315.6 79.7L316.1 81.5L316.6 83.9L317.1 85.5L317.6 87.9L318.1 90.9L318.6 93.8L319.1 91.7L319.6 95.1L320.1 99.5L320.6 100.1L321.1 103.0L321.6 106.4L322.1 111.8L322.6 116.4L323.1 116.1L323.6 119.4L324.1 124.9L324.6 130.8L325.1 134.8L325.6 135.8L326.1 141.5L326.6 147.8L327.1 154.9L327.6 161.8L328.1 172.3L328.6 180.3L329.1 183.7L329.6 188.5L330.1 193.2L330.6 197.8L331.1 202.2L331.6 204.2L332.1 208.7L332.6 213.2L333.1 216.1L333.6 224.5L334.1 231.8L334.6 234.6L335.1 240.4L335.6 244.3L336.1 245.1L336.6 247.7L337.1 249.4L337.6 250.2L338.1 252.0L338.6 253.7L339.1 255.3L339.6 257.4L340.1 258.4L340.6 259.3L341.1 261.1L341.6 261.5L342.1 262.5L342.6 263.8L343.1 265.5L343.6 266.9L344.1 267.1L344.6 267.0L345.1 267.8L345.6 268.8L346.1 269.9L346.6 270.9L347.1 270.7L347.6 271.8L348.1 273.1L348.6 273.0L349.1 273.8L349.6 274.5L350.1 274.4L350.6 275.0L351.1 275.1L351.6 275.1L352.1 275.7L352.6 276.9L353.1 277.9L353.6 277.4L354.1 277.7L354.6 278.1L355.1 277.6L355.6 278.2L356.1 278.3L356.6 279.2L357.1 279.3L357.6 277.8L358.1 278.4L358.6 278.9L359.1 278.3L359.6 277.2L360.1 277.9L360.6 279.7L361.1 279.7L361.6 279.9L362.1 280.4L362.6 280.0L363.1 279.7L363.6 279.5L364.1 279.0L364.6 279.9L365.1 280.4L365.6 279.4L366.1 279.4L366.6 280.1L367.1 279.6L367.6 280.0L368.1 280.3L368.6 279.5L369.1 279.3L369.6 281.0L370.1 280.9L370.6 280.3L371.1 281.4L371.6 281.7L372.1 281.0L372.6 280.7L373.1 281.4L373.6 282.1L374.1 281.8L374.6 281.1L375.1 282.0L375.6 283.1L376.1 282.9L376.6 282.3L377.1 282.4L377.6 282.9L378.1 283.2L378.6 282.7L379.1 282.4L379.6 283.0L380.1 282.2L380.6 282.9L381.1 283.5L381.6 283.3L382.1 283.6L382.6 283.2L383.1 283.1L383.6 284.1L384.1 284.3L384.6 284.7L385.1 284.2L385.6 283.1L386.1 283.9L386.6 284.8L387.1 285.8L387.6 285.9L388.1 284.7L388.6 284.9L389.1 285.0L389.6 284.0L390.1 285.6L390.6 286.5L391.1 285.8L391.6 286.0L392.1 286.5L392.6 286.5L393.1 286.3L393.6 285.8L394.1 284.8L394.6 285.9L395.1 287.3L395.6 287.0L396.1 286.5L396.6 286.4L397.1 286.1L397.6 286.7L398.1 287.4L398.6 287.0L399.1 286.9L399.6 287.3L400.1 287.4L400.6 287.3L401.1 286.6L401.6 286.6L402.1 288.2L402.6 287.8L403.1 286.8L403.6 287.5L404.1 288.1L404.6 288.0L405.1 286.9L405.6 286.9L406.1 287.2L406.6 286.6L407.1 287.5L407.6 287.7L408.1 287.9L408.6 289.5L409.1 289.5L409.6 288.5L410.1 287.8L410.6 287.3L411.1 287.3L411.6 287.4L412.1 287.4L412.6 287.4L413.1 287.8L413.6 287.7L414.1 287.2L414.6 286.3L415.1 288.0L415.6 288.7L416.1 289.0L416.6 289.4L417.1 288.9L417.6 288.8L418.1 288.3L418.6 289.1L419.1 290.3L419.6 289.2L420.1 288.3L420.6 288.6L421.1 288.3L421.6 287.8L422.1 289.0L422.6 289.4L423.1 289.0L423.6 289.4L424.1 289.2L424.6 289.0L425.1 289.2L425.6 288.8L426.1 289.3L426.6 289.2L427.1 289.9L427.6 290.1L428.1 290.2L428.6 290.1L429.1 289.5L429.6 289.3L430.1 288.7L430.6 289.4L431.1 290.3L431.6 289.7L432.1 290.0L432.6 290.2L433.1 289.8L433.6 290.4L434.1 290.6L434.6 289.7L435.1 290.2L435.6 291.3L436.1 290.4L436.6 289.8L437.1 289.3L437.6 289.2L438.1 290.2L438.6 290.7L439.1 290.0L439.6 290.0L440.1 291.2L440.6 291.3L441.1 290.4L441.6 291.2L442.1 291.6L442.6 291.1L443.1 290.7L443.6 290.0L444.1 289.8L444.6 290.3L445.1 290.5L445.6 291.1L446.1 291.5L446.6 291.4L447.1 291.3L447.6 290.8L448.1 289.8L448.6 290.1L449.1 290.6L449.6 290.6L450.1 290.9L450.6 290.7L451.1 290.4L451.6 290.9L452.1 291.5L452.6 291.3L453.1 291.5L453.6 291.7L454.1 291.1L454.6 291.2L455.1 292.5L455.6 292.2L456.1 292.0L456.6 292.9L457.1 293.1L457.6 292.2L458.1 292.4L458.6 292.9L459.1 291.9L459.6 291.8L460.1 292.2L460.6 292.4L461.1 292.1L461.6 292.6L462.1 292.4L462.6 291.5L463.1 292.2L463.6 293.0L464.1 293.1L464.6 292.4L465.1 292.4L465.6 293.1L466.1 293.5L466.6 292.8L467.1 292.1L467.6 292.6L468.1 291.8L468.6 291.7L469.1 292.9L469.6 293.0L470.1 292.3L470.6 292.9L471.1 293.6L471.6 293.7L472.1 293.0L472.6 292.6L473.1 293.4L473.6 293.2L474.1 292.4L474.6 293.1L475.1 294.1L475.6 293.3L476.1 291.6L476.6 291.5L477.1 292.2L477.6 292.4L478.1 293.5L478.6 293.5L479.1 293.0L479.6 293.2L480.1 293.1L480.6 293.0L481.1 293.2L481.6 294.4L482.1 295.0L482.6 293.6L483.1 292.9L483.6 293.0L484.1 292.8L484.6 292.7L485.1 293.1L485.6 293.8L486.1 294.0L486.6 293.3L487.1 292.9L487.6 292.1L488.1 293.4L488.6 293.7L489.1 294.3L489.6 294.2L490.1 294.2L490.6 294.6L491.1 294.1L491.6 293.2L492.1 292.7L492.6 293.9L493.1 295.0L493.6 294.8L494.1 294.6L494.6 294.4L495.1 293.9L495.6 293.5L496.1 294.4L496.6 294.9L497.1 294.4L497.6 294.1L498.1 294.5L498.6 294.8L499.1 294.2L499.6 294.8L500.1 295.3L500.6 294.6L501.1 295.2L501.6 295.6L502.1 295.0L502.6 294.8L503.1 294.4L503.6 293.9L504.1 293.5L504.6 294.3L505.1 294.4L505.6 294.2L506.1 294.7L506.6 294.0L507.1 294.0L507.6 294.9L508.1 295.2L508.6 295.9L509.1 295.8L509.6 295.4L510.1 295.2L510.6 295.0L511.1 295.4L511.6 294.9L512.1 294.8L512.6 295.0L513.1 295.1L513.6 295.5L514.1 295.1L514.6 294.6L515.1 295.2L515.6 294.8L516.1 294.2L516.6 295.6L517.1 294.7L517.6 293.8L518.1 295.2L518.6 294.8L519.1 295.6L519.6 295.2L520.1 294.7L520.6 296.5L521.1 296.3L521.6 295.5L522.1 295.3L522.6 295.0L523.1 295.2L523.6 295.1L524.1 294.7L524.6 295.6L525.1 295.2L525.6 294.6L526.1 295.2L526.6 294.8L527.1 295.2L527.6 295.9L528.1 294.8L528.6 294.6L529.1 294.9L529.6 294.7L530.1 295.0L530.6 295.0L531.1 295.4L531.6 295.4L532.1 295.4L532.6 295.7" stroke="#ED7D31" stroke-width="1.3"/>
</g>
<clipPath id="dc"><rect x="42.0" y="8" width="492.0" height="293.6"/></clipPath>
<g fill="#000" clip-path="url(#dc)"><circle cx="42.30" cy="20.5" r="1.65"/><circle cx="49.28" cy="20.5" r="1.65"/><circle cx="56.27" cy="20.5" r="1.65"/><circle cx="63.25" cy="20.5" r="1.65"/><circle cx="70.24" cy="20.5" r="1.65"/><circle cx="77.22" cy="20.5" r="1.65"/><circle cx="84.21" cy="20.5" r="1.65"/><circle cx="91.19" cy="20.5" r="1.65"/><circle cx="98.18" cy="20.5" r="1.65"/><circle cx="105.16" cy="20.5" r="1.65"/><circle cx="112.15" cy="20.5" r="1.65"/><circle cx="119.14" cy="20.5" r="1.65"/><circle cx="126.12" cy="20.5" r="1.65"/><circle cx="330.60" cy="20.5" r="1.65"/><circle cx="337.57" cy="20.5" r="1.65"/><circle cx="344.54" cy="20.5" r="1.65"/><circle cx="351.51" cy="20.5" r="1.65"/><circle cx="358.48" cy="20.5" r="1.65"/><circle cx="365.45" cy="20.5" r="1.65"/><circle cx="372.42" cy="20.5" r="1.65"/><circle cx="379.39" cy="20.5" r="1.65"/><circle cx="386.36" cy="20.5" r="1.65"/><circle cx="393.33" cy="20.5" r="1.65"/><circle cx="400.30" cy="20.5" r="1.65"/><circle cx="407.27" cy="20.5" r="1.65"/><circle cx="414.24" cy="20.5" r="1.65"/><circle cx="421.21" cy="20.5" r="1.65"/><circle cx="428.18" cy="20.5" r="1.65"/><circle cx="435.15" cy="20.5" r="1.65"/><circle cx="442.12" cy="20.5" r="1.65"/><circle cx="449.09" cy="20.5" r="1.65"/><circle cx="456.06" cy="20.5" r="1.65"/><circle cx="463.03" cy="20.5" r="1.65"/><circle cx="470.00" cy="20.5" r="1.65"/><circle cx="476.97" cy="20.5" r="1.65"/><circle cx="483.94" cy="20.5" r="1.65"/><circle cx="490.91" cy="20.5" r="1.65"/><circle cx="497.88" cy="20.5" r="1.65"/><circle cx="504.85" cy="20.5" r="1.65"/><circle cx="511.82" cy="20.5" r="1.65"/><circle cx="518.79" cy="20.5" r="1.65"/><circle cx="525.76" cy="20.5" r="1.65"/><circle cx="532.73" cy="20.5" r="1.65"/></g>
<path d="M131.3 20.5H323.6" stroke="#000" stroke-width="4.0" stroke-linecap="round"/>
<!-- inset -->
<rect x="161.7" y="128.2" width="131.9" height="123" fill="#fff"/>
<g fill="none" clip-path="url(#ic)" stroke-linejoin="round">
<path d="M178.5 251.0L179.0 250.6L179.5 250.0L180.0 249.5L180.5 249.1L181.0 248.8L181.5 248.6L182.0 248.5L182.5 248.3L183.0 248.2L183.5 248.1L184.0 248.0L184.5 247.9L185.0 247.9L185.5 247.8L186.0 247.8L186.5 247.7L187.0 247.6L187.5 247.6L188.0 247.5L188.5 247.4L189.0 247.4L189.5 247.3L190.0 247.3L190.5 247.2L191.0 247.1L191.5 246.9L192.0 246.8L192.5 246.6L193.0 246.4L193.5 246.2L194.0 245.9L194.5 245.6L195.0 245.3L195.5 245.0L196.0 244.6L196.5 244.1L197.0 243.7L197.5 243.2L198.0 242.6L198.5 242.1L199.0 241.7L199.5 241.3L200.0 241.0L200.5 240.8L201.0 240.7L201.5 240.7L202.0 240.6L202.5 240.5L203.0 240.4L203.5 240.3L204.0 240.2L204.5 239.9L205.0 239.5L205.5 239.2L206.0 238.8L206.5 238.4L207.0 238.0L207.5 237.4L208.0 236.9L208.5 236.4L209.0 236.0L209.5 235.8L210.0 235.6L210.5 235.4L211.0 235.4L211.5 235.3L212.0 235.4L212.5 235.3L213.0 235.3L213.5 235.1L214.0 234.9L214.5 234.7L215.0 234.5L215.5 234.3L216.0 234.1L216.5 234.0L217.0 233.8L217.5 233.7L218.0 233.6L218.5 233.4L219.0 233.2L219.5 233.1L220.0 232.9L220.5 232.7L221.0 232.6L221.5 232.4L222.0 232.2L222.5 231.9L223.0 231.7L223.5 231.4L224.0 231.2L224.5 231.0L225.0 230.7L225.5 230.5L226.0 230.3L226.5 230.0L227.0 229.8L227.5 229.5L228.0 229.2L228.5 228.9L229.0 228.7L229.5 228.3L230.0 228.0L230.5 227.5L231.0 227.0L231.5 226.5L232.0 226.0L232.5 225.5L233.0 225.0L233.5 224.5L234.0 223.9L234.5 223.2L235.0 222.6L235.5 222.0L236.0 221.3L236.5 220.7L237.0 220.1L237.5 219.4L238.0 218.6L238.5 217.8L239.0 217.0L239.5 216.2L240.0 215.3L240.5 214.5L241.0 213.7L241.5 212.8L242.0 212.0L242.5 211.2L243.0 210.3L243.5 209.6L244.0 208.9L244.5 208.3L245.0 207.7L245.5 207.1L246.0 206.4L246.5 205.8L247.0 205.2L247.5 204.6L248.0 204.0L248.5 203.4L249.0 202.8L249.5 202.1L250.0 201.5L250.5 200.9L251.0 200.3L251.5 199.7L252.0 199.0L252.5 198.4L253.0 197.6L253.5 196.7L254.0 195.8L254.5 194.9L255.0 194.0L255.5 193.2L256.0 192.3L256.5 191.4L257.0 190.5L257.5 189.7L258.0 189.0L258.5 188.2L259.0 187.5L259.5 186.7L260.0 185.9L260.5 185.2L261.0 184.4L261.5 183.7L262.0 183.0L262.5 182.3L263.0 181.6L263.5 180.9L264.0 180.4L264.5 179.8L265.0 179.4L265.5 179.0L266.0 178.8L266.5 178.8L267.0 179.0L267.5 179.1L268.0 179.4L268.5 179.7L269.0 180.1L269.5 180.3L270.0 180.2L270.5 179.9L271.0 179.4L271.5 179.0L272.0 178.6L272.5 178.2L273.0 178.0L273.5 177.7L274.0 177.5L274.5 177.2L275.0 177.0L275.5 176.9L276.0 176.7L276.5 176.5L277.0 176.4L277.5 176.2L278.0 176.2L278.5 176.1L279.0 176.1L279.5 176.1L280.0 176.1L280.5 176.0L281.0 175.9L281.5 175.7L282.0 175.3L282.5 174.9L283.0 174.6L283.5 174.2L284.0 173.7L284.5 173.3L285.0 172.7L285.5 172.2L286.0 171.6L286.5 171.1L287.0 170.6L287.5 170.1L288.0 169.6L288.5 169.2L289.0 168.9L289.5 168.5L290.0 168.2L290.5 167.8L291.0 167.6L291.5 167.3L292.0 167.1L292.5 166.9L293.0 166.7L293.5 166.5" stroke="#E6AA80" stroke-width="1.6"/>
<path d="M161.7 133.2L162.2 133.5L162.7 134.0L163.2 134.5L163.7 134.9L164.2 135.2L164.7 135.5L165.2 135.8L165.7 136.1L166.2 136.2L166.7 136.3L167.2 136.3L167.7 136.2L168.2 136.1L168.7 136.0L169.2 136.0L169.7 136.1L170.2 136.4L170.7 136.7L171.2 137.0L171.7 137.4L172.2 137.8L172.7 138.3L173.2 138.9L173.7 139.5L174.2 140.1L174.7 140.6L175.2 141.2L175.7 141.7L176.2 142.1L176.7 142.6L177.2 143.1L177.7 143.6L178.2 144.0L178.7 144.4L179.2 144.8L179.7 145.1L180.2 145.3L180.7 145.6L181.2 145.9L181.7 146.2L182.2 146.5L182.7 146.7L183.2 147.0L183.7 147.3L184.2 147.5L184.7 147.8L185.2 148.0L185.7 148.2L186.2 148.5L186.7 148.7L187.2 148.9L187.7 149.2L188.2 149.4L188.7 149.6L189.2 149.9L189.7 150.0L190.2 150.2L190.7 150.4L191.2 150.6L191.7 150.7L192.2 150.9L192.7 151.0L193.2 151.1L193.7 151.1L194.2 151.2L194.7 151.2L195.2 151.3L195.7 151.3L196.2 151.5L196.7 151.7L197.2 152.0L197.7 152.3L198.2 152.7L198.7 153.0L199.2 153.3L199.7 153.6L200.2 154.0L200.7 154.3L201.2 154.6L201.7 154.8L202.2 154.9L202.7 154.9L203.2 154.9L203.7 155.0L204.2 155.0L204.7 155.1L205.2 155.1L205.7 155.1L206.2 155.2L206.7 155.4L207.2 155.7L207.7 156.2L208.2 156.7L208.7 157.2L209.2 157.7L209.7 158.2L210.2 158.7L210.7 159.1L211.2 159.6L211.7 160.0L212.2 160.5L212.7 160.9L213.2 161.4L213.7 161.8L214.2 162.1L214.7 162.4L215.2 162.7L215.7 162.9L216.2 163.2L216.7 163.4L217.2 163.6L217.7 163.8L218.2 163.9L218.7 164.0L219.2 164.1L219.7 164.2L220.2 164.3L220.7 164.3L221.2 164.3L221.7 164.4L222.2 164.4L222.7 164.4L223.2 164.4L223.7 164.4L224.2 164.5L224.7 164.5L225.2 164.5L225.7 164.6L226.2 164.8L226.7 165.0L227.2 165.1L227.7 165.3L228.2 165.5L228.7 165.7L229.2 165.8L229.7 166.1L230.2 166.5L230.7 167.1L231.2 167.6L231.7 168.1L232.2 168.7L232.7 169.4L233.2 170.1L233.7 170.9L234.2 171.7L234.7 172.5L235.2 173.3L235.7 174.0L236.2 174.6L236.7 175.2L237.2 175.9L237.7 176.5L238.2 177.1L238.7 177.8L239.2 178.4L239.7 179.0L240.2 179.7L240.7 180.3L241.2 180.9L241.7 181.5L242.2 182.1L242.7 182.7L243.2 183.3L243.7 184.0L244.2 184.7L244.7 185.4L245.2 186.1L245.7 186.9L246.2 187.6L246.7 188.3L247.2 189.1L247.7 189.8L248.2 190.6L248.7 191.4L249.2 192.2L249.7 193.1L250.2 194.0L250.7 194.9L251.2 195.8L251.7 196.7L252.2 197.6L252.7 198.4L253.2 199.1L253.7 199.8L254.2 200.4L254.7 201.1L255.2 201.8L255.7 202.4L256.2 203.1L256.7 203.6L257.2 204.1L257.7 204.5L258.2 204.9L258.7 205.4L259.2 205.8L259.7 206.2L260.2 206.6L260.7 207.0L261.2 207.4L261.7 207.6L262.2 207.8L262.7 208.0L263.2 208.2L263.7 208.3L264.2 208.5L264.7 208.7L265.2 208.8L265.7 208.9L266.2 209.0L266.7 209.1L267.2 209.3L267.7 209.4L268.2 209.5L268.7 209.6L269.2 209.7L269.7 209.8L270.2 209.9L270.7 210.1L271.2 210.2L271.7 210.3L272.2 210.5L272.7 210.8L273.2 211.0L273.7 211.3L274.2 211.5L274.7 211.9L275.2 212.3L275.7 212.8L276.2 213.3L276.7 213.7L277.2 214.2L277.7 214.7L278.2 215.2L278.7 215.7L279.2 216.1L279.7 216.6L280.2 217.1L280.7 217.5L281.2 218.0L281.7 218.5L282.2 218.9L282.7 219.2L283.2 219.3L283.7 219.4L284.2 219.5L284.7 219.6L285.2 219.7L285.7 219.8L286.2 219.9L286.7 220.0L287.2 220.2L287.7 220.3L288.2 220.4L288.7 220.7L289.2 221.1L289.7 221.6L290.2 222.1L290.7 222.5L291.2 223.0L291.7 223.4L292.2 223.9L292.7 224.4L293.2 224.7" stroke="#E6AA80" stroke-width="1.6"/>
<path d="M161.7 145.5L162.2 146.3L162.7 147.5L163.2 148.7L163.7 149.6L164.2 150.4L164.7 151.0L165.2 151.6L165.7 152.2L166.2 152.8L166.7 153.3L167.2 153.6L167.7 153.9L168.2 154.3L168.7 154.6L169.2 155.0L169.7 155.3L170.2 155.6L170.7 155.9L171.2 156.2L171.7 156.5L172.2 156.7L172.7 157.0L173.2 157.3L173.7 157.6L174.2 157.9L174.7 158.1L175.2 158.4L175.7 158.7L176.2 158.9L176.7 159.2L177.2 159.4L177.7 159.7L178.2 159.9L178.7 160.2L179.2 160.4L179.7 160.7L180.2 160.9L180.7 161.2L181.2 161.4L181.7 161.7L182.2 162.0L182.7 162.2L183.2 162.5L183.7 162.8L184.2 163.1L184.7 163.3L185.2 163.7L185.7 164.0L186.2 164.4L186.7 164.7L187.2 165.1L187.7 165.5L188.2 165.8L188.7 166.2L189.2 166.6L189.7 167.0L190.2 167.5L190.7 168.0L191.2 168.4L191.7 168.9L192.2 169.3L192.7 169.8L193.2 170.3L193.7 170.7L194.2 171.2L194.7 171.7L195.2 172.2L195.7 172.8L196.2 173.3L196.7 173.8L197.2 174.3L197.7 174.8L198.2 175.4L198.7 175.9L199.2 176.4L199.7 176.8L200.2 177.1L200.7 177.4L201.2 177.8L201.7 178.1L202.2 178.4L202.7 178.6L203.2 178.8L203.7 179.0L204.2 179.1L204.7 179.3L205.2 179.5L205.7 179.7L206.2 180.0L206.7 180.4L207.2 180.8L207.7 181.2L208.2 181.5L208.7 181.9L209.2 182.3L209.7 182.7L210.2 183.1L210.7 183.5L211.2 183.9L211.7 184.3L212.2 184.7L212.7 185.1L213.2 185.5L213.7 185.9L214.2 186.3L214.7 186.7L215.2 187.1L215.7 187.5L216.2 187.9L216.7 188.3L217.2 188.7L217.7 189.1L218.2 189.5L218.7 189.9L219.2 190.4L219.7 190.8L220.2 191.2L220.7 191.7L221.2 192.1L221.7 192.6L222.2 193.1L222.7 193.7L223.2 194.5L223.7 195.2L224.2 195.9L224.7 196.6L225.2 197.4L225.7 198.2L226.2 199.3L226.7 200.5L227.2 201.9L227.7 203.3L228.2 204.7L228.7 206.2L229.2 207.7L229.7 209.2L230.2 210.5L230.7 211.9L231.2 213.2L231.7 214.5L232.2 215.7L232.7 216.9L233.2 218.1L233.7 219.2L234.2 220.0L234.7 220.8L235.2 221.5L235.7 222.3L236.2 223.0L236.7 223.7L237.2 224.3L237.7 224.9L238.2 225.5L238.7 226.1L239.2 226.6L239.7 227.2L240.2 227.7L240.7 228.1L241.2 228.6L241.7 229.1L242.2 229.5L242.7 229.9L243.2 230.3L243.7 230.6L244.2 231.0L244.7 231.3L245.2 231.6L245.7 231.9L246.2 232.2L246.7 232.4L247.2 232.7L247.7 232.9L248.2 233.2L248.7 233.4L249.2 233.7L249.7 233.9L250.2 234.2L250.7 234.4L251.2 234.7L251.7 235.0L252.2 235.2L252.7 235.5L253.2 235.7L253.7 236.0L254.2 236.3L254.7 236.6L255.2 236.8L255.7 237.1L256.2 237.4L256.7 237.6L257.2 237.9L257.7 238.1L258.2 238.3L258.7 238.5L259.2 238.8L259.7 239.0L260.2 239.2L260.7 239.4L261.2 239.6L261.7 239.7L262.2 239.9L262.7 240.0L263.2 240.1L263.7 240.2L264.2 240.3L264.7 240.5L265.2 240.6L265.7 240.7L266.2 240.8L266.7 241.0L267.2 241.2L267.7 241.5L268.2 241.8L268.7 242.0L269.2 242.3L269.7 242.6L270.2 242.8L270.7 243.0L271.2 243.2L271.7 243.4L272.2 243.6L272.7 243.7L273.2 243.9L273.7 244.0L274.2 244.1L274.7 244.2L275.2 244.3L275.7 244.4L276.2 244.5L276.7 244.7L277.2 244.8L277.7 244.9L278.2 245.0L278.7 245.1L279.2 245.3L279.7 245.4L280.2 245.5L280.7 245.8L281.2 246.1L281.7 246.5L282.2 246.9L282.7 247.3L283.2 247.9L283.7 248.5L284.2 249.3L284.7 250.0L285.2 250.5" stroke="#000" stroke-width="1.5"/>
</g>
<path d="M161.7 198.3H262.8M225.6 128.2V251.2M252.7 128.2V251.2" stroke="#2a2a2a" stroke-width="1.2" fill="none"/>
<path d="M161.7 128.2H293.6V251.2" fill="none" stroke="#a6a6a6" stroke-width="1.2"/>
<path d="M161.7 128.2V251.2H293.6M159.0 251.2H161.7M159.0 216.0H161.7M159.0 180.8H161.7M159.0 145.6H161.7M161.7 251.2V253.8M170.5 251.2V253.8M179.3 251.2V253.8M188.1 251.2V253.8M196.9 251.2V253.8M205.7 251.2V253.8M214.5 251.2V253.8M223.3 251.2V253.8M232.0 251.2V253.8M240.8 251.2V253.8M249.6 251.2V253.8M258.4 251.2V253.8M267.2 251.2V253.8M276.0 251.2V253.8M284.8 251.2V253.8M293.6 251.2V253.8" fill="none" stroke="#404040" stroke-width="1.3"/>
</g>
<g fill="#4a4a4a" stroke="#4a4a4a" stroke-width="0.45" filter="url(#bt)">
<g font-size="8.3"><text x="42.2" y="316.8" text-anchor="middle">0</text><text x="91.3" y="316.8" text-anchor="middle">200</text><text x="140.4" y="316.8" text-anchor="middle">400</text><text x="189.5" y="316.8" text-anchor="middle">600</text><text x="238.6" y="316.8" text-anchor="middle">800</text><text x="287.7" y="316.8" text-anchor="middle">1000</text><text x="336.8" y="316.8" text-anchor="middle">1200</text><text x="385.9" y="316.8" text-anchor="middle">1400</text><text x="435.0" y="316.8" text-anchor="middle">1600</text><text x="484.1" y="316.8" text-anchor="middle">1800</text><text x="533.2" y="316.8" text-anchor="middle">2000</text></g>
<g font-size="7.5"><text x="29.4" y="304.4" text-anchor="end">0.0</text><text x="29.4" y="253.3" text-anchor="end">0.2</text><text x="29.4" y="202.1" text-anchor="end">0.4</text><text x="29.4" y="151.0" text-anchor="end">0.6</text><text x="29.4" y="99.8" text-anchor="end">0.8</text><text x="29.4" y="48.7" text-anchor="end">1.0</text></g>
<g font-size="7.3"><text x="154.5" y="253.8" text-anchor="end">0.2</text><text x="154.5" y="218.6" text-anchor="end">0.4</text><text x="154.5" y="183.4" text-anchor="end">0.6</text><text x="154.5" y="148.2" text-anchor="end">0.8</text></g>
<g font-size="8.4"><text x="161.7" y="266.1" text-anchor="middle">1120</text><text x="205.7" y="266.1" text-anchor="middle">1140</text><text x="249.6" y="266.1" text-anchor="middle">1160</text><text x="293.6" y="266.1" text-anchor="middle">1180</text></g>
<text x="287.6" y="330.6" text-anchor="middle" font-size="9.6">Working travel of the lens [s]</text>
<text transform="translate(14.4 154.2) rotate(-90)" text-anchor="middle" font-size="9.6">Normalized intensity of raman band</text>
</g>
</svg>
</body></html>
